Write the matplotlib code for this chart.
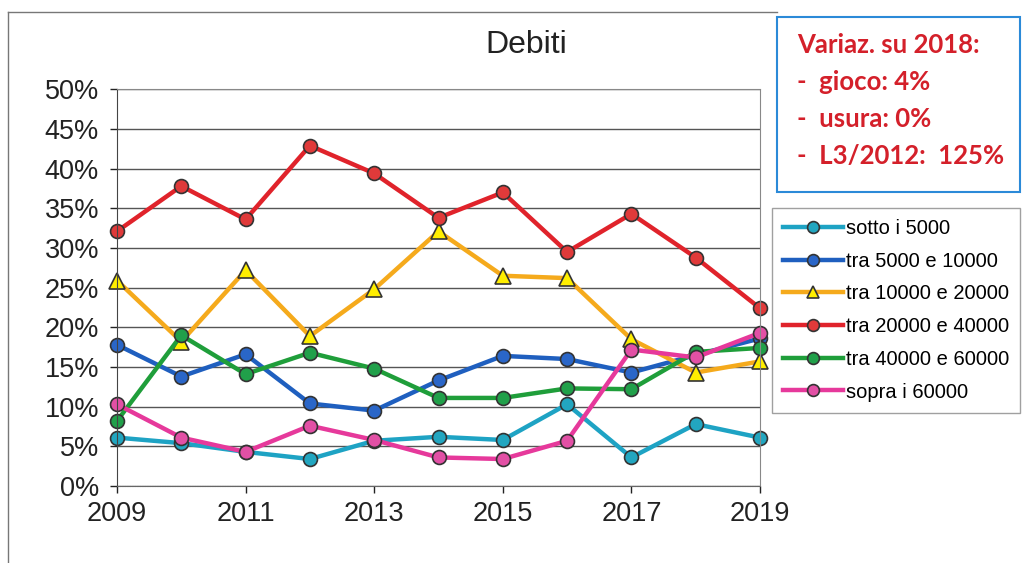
import matplotlib.pyplot as plt
from matplotlib.lines import Line2D
from matplotlib.patches import Rectangle

years = list(range(2009, 2020))

sotto_5000 = [6.1, 5.4, 4.3, 3.4, 5.7, 6.2, 5.8, 10.3, 3.6, 7.8, 6.1]
tra_5_10 = [17.8, 13.8, 16.6, 10.4, 9.5, 13.3, 16.4, 16.0, 14.3, 16.5, 18.6]
tra_10_20 = [25.9, 18.2, 27.2, 18.9, 24.8, 32.1, 26.5, 26.2, 18.5, 14.3, 15.7]
tra_20_40 = [32.1, 37.8, 33.6, 42.9, 39.4, 33.8, 37.0, 29.5, 34.3, 28.8, 22.4]
tra_40_60 = [8.2, 19.0, 14.1, 16.8, 14.8, 11.1, 11.1, 12.3, 12.2, 16.9, 17.4]
sopra_60000 = [10.3, 6.1, 4.3, 7.6, 5.8, 3.6, 3.4, 5.7, 17.2, 16.2, 19.3]

labels = ['sotto i 5000', 'tra 5000 e 10000', 'tra 10000 e 20000',
          'tra 20000 e 40000', 'tra 40000 e 60000', 'sopra i 60000']
series = [sotto_5000, tra_5_10, tra_10_20, tra_20_40, tra_40_60, sopra_60000]
line_colors = ['#1ea3c4', '#1f5fbf', '#f5aa1c', '#e0232b', '#1f9e3a', '#e6399b']
face_colors = ['#22a6c0', '#2a66c8', '#ffee00', '#e03a3a', '#21a04a', '#e250a5']
markers = ['o', 'o', '^', 'o', 'o', 'o']

box_lines = ['Variaz. su 2018:', '-  gioco: 4%', '-  usura: 0%', '-  L3/2012:  125%']

plt.rcParams['font.family'] = ['Liberation Sans', 'DejaVu Sans']

W, H = 1028, 563
fig = plt.figure(figsize=(10.28, 5.63), dpi=100)
ax = fig.add_axes([117 / W, 1 - 486 / H, 643 / W, 396.7 / H])

for vals, lab, lc, fc, mk in zip(series, labels, line_colors, face_colors, markers):
    ax.plot(years, vals, color=lc, lw=3.2, marker=mk, ms=10 if mk == 'o' else 11,
            markerfacecolor=fc, markeredgecolor='#333333', markeredgewidth=1.2,
            label=lab, clip_on=False)

ax.set_xlim(2009, 2019)
ax.set_ylim(0, 50)
ax.set_xticks(range(2009, 2020, 2))
ax.set_yticks(range(0, 51, 5))
ax.set_yticklabels([f'{v}%' for v in range(0, 51, 5)])
ax.tick_params(axis='both', labelsize=19.5, colors='#222222', length=5, width=1)
ax.tick_params(axis='y', pad=8)
ax.tick_params(axis='x', pad=6)
ax.grid(axis='y', color='#555555', lw=1)
ax.set_axisbelow(True)
for s in ['top', 'right']:
    ax.spines[s].set_color('#888888')
    ax.spines[s].set_linestyle((0, (1, 1)))
ax.spines['bottom'].set_color('#666666')
ax.spines['bottom'].set_linestyle((0, (1, 0.5)))
ax.spines['left'].set_color('#444444')

fig.text(526 / W, 1 - 45 / H, 'Debiti', fontsize=23, color='#222222',
         ha='center', va='center')

leg = fig.legend(loc='upper left', bbox_to_anchor=(772 / W, 1 - 208 / H),
                 fontsize=14.5, frameon=True, fancybox=False, edgecolor='#888888',
                 handlelength=3.0, handletextpad=0.1, labelspacing=0.68,
                 borderpad=0.55, borderaxespad=0, markerscale=0.85)
leg.get_frame().set_linewidth(1)

# note box top right
fig.add_artist(Rectangle((777 / W, 1 - 192 / H), 243 / W, 175 / H,
                         transform=fig.transFigure, facecolor='white',
                         edgecolor='#2b8ad8', lw=1.5))
for i, line in enumerate(box_lines):
    fig.text(797 / W, 1 - (45 + 37 * i) / H, line, fontsize=18.5,
             fontweight='bold', color='#d4202a', family=['Lato', 'DejaVu Sans'],
             va='center', ha='left')

fig.add_artist(Line2D([8 / W, 8 / W], [0, 1 - 12 / H], color='#777777', lw=1))
fig.add_artist(Line2D([8 / W, 777 / W], [1 - 12 / H, 1 - 12 / H], color='#777777', lw=1))

fig.savefig('out.png', dpi=100)
